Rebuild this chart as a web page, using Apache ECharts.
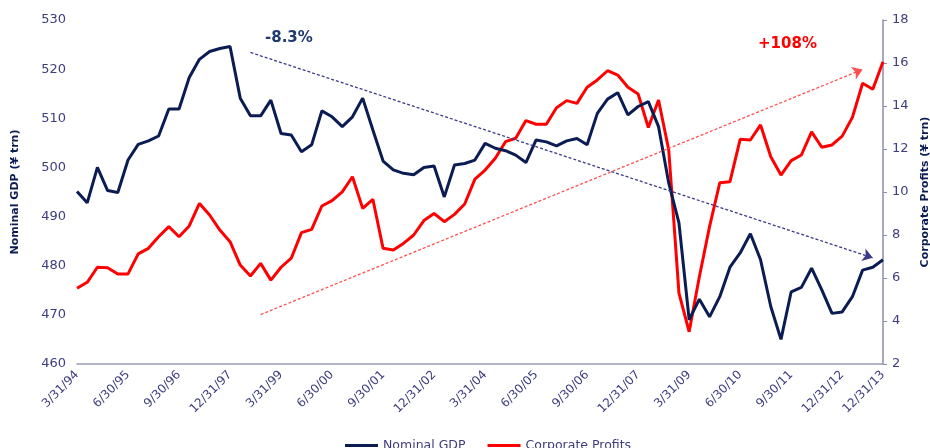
<!DOCTYPE html>
<html>
<head>
<meta charset="utf-8">
<script src="https://cdn.jsdelivr.net/npm/echarts@6/dist/echarts.min.js"></script>
<style>
  html, body { margin: 0; padding: 0; background: #fff; }
  #chart { width: 930px; height: 448px; }
</style>
</head>
<body>
<div id="chart"></div>
<script>
// quarter-end dates, 3/31/94 .. 12/31/13
const quarterEnds = ['3/31', '6/30', '9/30', '12/31'];
const categories = [];
for (let y = 1994; y <= 2013; y++) {
    quarterEnds.forEach(q => categories.push(q + '/' + String(y).slice(2)));
}

// Nominal GDP (¥ trn), left axis
const nominalGdp = [
    495.1, 492.8, 500.0, 495.3, 494.9, 501.5, 504.7, 505.4, 506.4, 511.9,
    511.9, 518.3, 522.0, 523.6, 524.2, 524.6, 514.1, 510.5, 510.5, 513.7,
    506.9, 506.6, 503.2, 504.6, 511.5, 510.3, 508.3, 510.3, 514.1, 507.6,
    501.3, 499.5, 498.8, 498.5, 500.0, 500.3, 494.0, 500.5, 500.8, 501.5,
    504.9, 503.9, 503.4, 502.5, 501.0, 505.6, 505.2, 504.4, 505.4, 505.9,
    504.6, 511.0, 513.9, 515.2, 510.7, 512.4, 513.4, 508.3, 496.8, 488.7,
    469.0, 473.2, 469.6, 473.7, 479.7, 482.6, 486.5, 481.2, 471.7, 465.0,
    474.7, 475.6, 479.5, 475.1, 470.3, 470.6, 473.7, 479.1, 479.7, 481.2
];

// Corporate Profits (¥ trn), right axis
const corpProfits = [
    5.52, 5.80, 6.50, 6.48, 6.19, 6.19, 7.12, 7.38, 7.92, 8.39,
    7.92, 8.42, 9.47, 8.93, 8.23, 7.69, 6.60, 6.09, 6.68, 5.90,
    6.50, 6.92, 8.11, 8.26, 9.35, 9.60, 10.01, 10.71, 9.24, 9.66,
    7.38, 7.30, 7.61, 8.00, 8.67, 9.00, 8.62, 8.96, 9.44, 10.60,
    11.02, 11.57, 12.34, 12.50, 13.32, 13.15, 13.15, 13.92, 14.25, 14.12,
    14.87, 15.21, 15.64, 15.44, 14.87, 14.56, 13.00, 14.28, 11.95, 5.30,
    3.50, 6.06, 8.39, 10.43, 10.48, 12.45, 12.42, 13.12, 11.64, 10.79,
    11.46, 11.72, 12.80, 12.08, 12.19, 12.60, 13.47, 15.06, 14.78, 16.06
];

// trend arrows [categoryIndex, value]
const gdpTrend = [[17, 523.4], [78, 481.6]];
const profitTrend = [[18, 4.3], [77, 15.7]];

const navy = '#0b1c52';
const red = '#ff0000';
const labelColor = '#3d3d80';
const font = '"DejaVu Sans", Verdana, sans-serif';

const chart = echarts.init(document.getElementById('chart'), null, { renderer: 'canvas' });

const option = {
    animation: false,
    grid: { left: 77, right: 47, top: 20, bottom: 84, outerBoundsMode: 'none' },
    legend: {
        left: 340,
        top: 434,
        icon: 'rect',
        itemWidth: 33,
        itemHeight: 3,
        itemGap: 22,
        textStyle: { color: labelColor, fontFamily: font, fontSize: 12.5 },
        data: ['Nominal GDP', 'Corporate Profits']
    },
    xAxis: {
        type: 'category',
        data: categories,
        boundaryGap: false,
        axisLine: { show: true, lineStyle: { color: '#9a9ab8', width: 1.5 } },
        axisTick: { show: false },
        axisLabel: {
            rotate: 45,
            margin: 9,
            color: labelColor,
            fontFamily: font,
            fontSize: 12,
            interval: (index) => index % 5 === 0 || index === categories.length - 1
        },
        splitLine: { show: false }
    },
    yAxis: [
        {
            type: 'value',
            min: 460,
            max: 530,
            interval: 10,
            name: 'Nominal GDP (\u00a5 trn)',
            nameLocation: 'middle',
            nameRotate: 90,
            nameGap: 56,
            nameTextStyle: { color: navy, fontFamily: font, fontSize: 11, fontWeight: 'bold' },
            axisLine: { show: false },
            axisTick: { show: false },
            axisLabel: { color: labelColor, fontFamily: font, fontSize: 13, margin: 11 },
            splitLine: { show: false }
        },
        {
            type: 'value',
            min: 2,
            max: 18,
            interval: 2,
            position: 'right',
            name: 'Corporate Profits (\u00a5 trn)',
            nameLocation: 'middle',
            nameRotate: 90,
            nameGap: 36,
            nameTextStyle: { color: navy, fontFamily: font, fontSize: 11, fontWeight: 'bold' },
            axisLine: { show: true, lineStyle: { color: '#8c8cac', width: 1.5 } },
            axisTick: { show: true, length: 4, lineStyle: { color: '#8c8cac' } },
            axisLabel: { color: labelColor, fontFamily: font, fontSize: 13, margin: 9 },
            splitLine: { show: false }
        }
    ],
    graphic: [
        {
            type: 'text', left: 265, top: 31,
            style: { text: '-8.3%', fill: '#1f3a6e', font: 'bold 15px ' + font }
        },
        {
            type: 'text', left: 758, top: 37,
            style: { text: '+108%', fill: red, font: 'bold 15px ' + font }
        }
    ],
    series: [
        {
            name: 'Nominal GDP',
            type: 'line',
            yAxisIndex: 0,
            data: nominalGdp,
            symbol: 'none',
            lineStyle: { color: navy, width: 3 },
            itemStyle: { color: navy },
            z: 3,
            markLine: {
                silent: true,
                symbol: ['none', 'arrow'],
                symbolSize: 10,
                label: { show: false },
                lineStyle: { color: '#3a3a8a', width: 1.3, type: [3, 2] },
                data: [[{ coord: gdpTrend[0] }, { coord: gdpTrend[1] }]]
            }
        },
        {
            name: 'Corporate Profits',
            type: 'line',
            yAxisIndex: 1,
            data: corpProfits,
            symbol: 'none',
            lineStyle: { color: red, width: 3 },
            itemStyle: { color: red },
            z: 2,
            markLine: {
                silent: true,
                symbol: ['none', 'arrow'],
                symbolSize: 10,
                label: { show: false },
                lineStyle: { color: '#ff5050', width: 1.3, type: [3, 2] },
                data: [[{ coord: profitTrend[0] }, { coord: profitTrend[1] }]]
            }
        }
    ]
};

chart.setOption(option);
</script>
</body>
</html>
